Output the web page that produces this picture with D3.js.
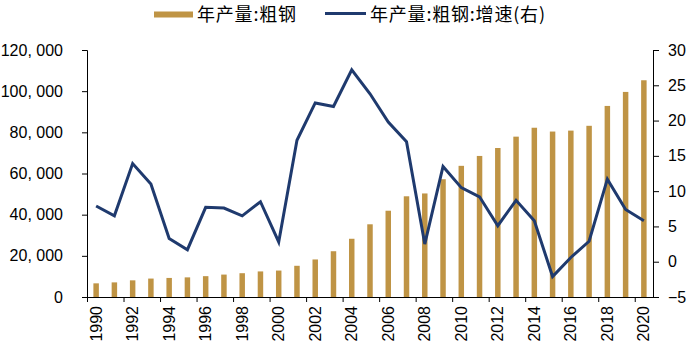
<!DOCTYPE html>
<html><head><meta charset="utf-8">
<script src="https://cdn.jsdelivr.net/npm/d3@7"></script>
<style>
html,body{margin:0;padding:0;background:#fff;}
svg{display:block;}
</style></head>
<body>
<script>
const years = d3.range(1990, 2021).map(String);
const output = [6635,7100,8094,8956,9261,9536,10124,10894,11559,12426,12850,15163,18237,22234,28291,35324,41915,48929,50306,57218,63723,68528,72388,77904,82231,80383,80837,83173,92826,99634,105300];
const growth = [7.9,6.5,13.9,11.0,3.3,1.7,7.7,7.6,6.5,8.5,2.8,17.2,22.5,22.0,27.2,23.8,19.8,17.0,2.5,13.5,10.5,9.2,5.1,8.7,5.8,-2.1,0.6,2.9,11.7,7.4,5.8];
const leftTicks = [0,20000,40000,60000,80000,100000,120000];
const rightTicks = [-5,0,5,10,15,20,25,30];
const labelYears = years.filter((d,i)=>i%2===0);
const seriesNames = ["年产量:粗钢","年产量:粗钢:增速(右)"];

const W=696,H=349;
const m={left:87,right:43,top:50,bottom:52};
const barColor="#BF9445", lineColor="#1F3A6E";
const numFont="'Liberation Sans', Arial, sans-serif";
const cjkFont="'Noto Sans CJK SC', sans-serif";

const svg=d3.select("body").append("svg").attr("width",W).attr("height",H);
const x=d3.scaleBand().domain(years).range([m.left,W-m.right]).paddingInner(0.7).paddingOuter(0.35);
const xb=d3.scaleLinear().domain([1990,2021]).range([m.left,W-m.right]);
const yL=d3.scaleLinear().domain([0,120000]).range([H-m.bottom,m.top]);
const yR=d3.scaleLinear().domain([-5,30]).range([H-m.bottom,m.top]);
const fmt=v=>d3.format(",")(v).replace(/,/g,", ");

// bars
svg.append("g").selectAll("rect").data(output).join("rect")
  .attr("x",(d,i)=>x(years[i])).attr("width",x.bandwidth())
  .attr("y",d=>yL(d)).attr("height",d=>yL(0)-yL(d)).attr("fill",barColor);

// left axis
const gL=svg.append("g").attr("transform",`translate(${m.left},0)`)
  .call(d3.axisLeft(yL).tickValues(leftTicks).tickFormat(fmt).tickSize(5).tickPadding(19));
// right axis
const gR=svg.append("g").attr("transform",`translate(${W-m.right},0)`)
  .call(d3.axisRight(yR).tickValues(rightTicks).tickSize(6).tickPadding(9));
// bottom axis ticks (boundaries)
const gB=svg.append("g").attr("transform",`translate(0,${H-m.bottom})`)
  .call(d3.axisBottom(xb).tickValues(d3.range(1990,2021,2)).tickFormat("").tickSize(5).tickSizeOuter(0));
// bottom labels
const gBL=svg.append("g").attr("transform",`translate(0,${H-m.bottom})`)
  .call(d3.axisBottom(x).tickValues(labelYears).tickSize(0).tickPadding(0));
gBL.select(".domain").remove();
gBL.selectAll("text").attr("transform","rotate(-90)").attr("text-anchor","end")
  .attr("x",-9).attr("y",0).attr("dy","0.35em");

[gL,gR,gB,gBL].forEach(g=>{
  g.selectAll("text").attr("font-family",numFont).attr("font-size",16).attr("fill","#000");
  g.selectAll("line,path").attr("stroke","#000").attr("stroke-width",1);
});

// line
svg.append("path").datum(growth)
  .attr("d",d3.line().x((d,i)=>x(years[i])+x.bandwidth()/2).y(d=>yR(d)))
  .attr("fill","none").attr("stroke",lineColor).attr("stroke-width",3).attr("stroke-linejoin","miter");

// legend
const lg=svg.append("g");
lg.append("rect").attr("x",154).attr("y",11.5).attr("width",39).attr("height",6).attr("fill",barColor);
lg.append("text").attr("x",197).attr("y",12.5).attr("dominant-baseline","central").text(seriesNames[0])
  .attr("textLength",99).attr("lengthAdjust","spacing")
  .attr("font-family",cjkFont).attr("font-size",18).attr("fill","#000");
lg.append("line").attr("x1",325).attr("x2",366).attr("y1",13.5).attr("y2",13.5).attr("stroke",lineColor).attr("stroke-width",3);
lg.append("text").attr("x",370).attr("y",12.5).attr("dominant-baseline","central").text(seriesNames[1])
  .attr("textLength",175).attr("lengthAdjust","spacing")
  .attr("font-family",cjkFont).attr("font-size",18).attr("fill","#000");
</script>
</body></html>
